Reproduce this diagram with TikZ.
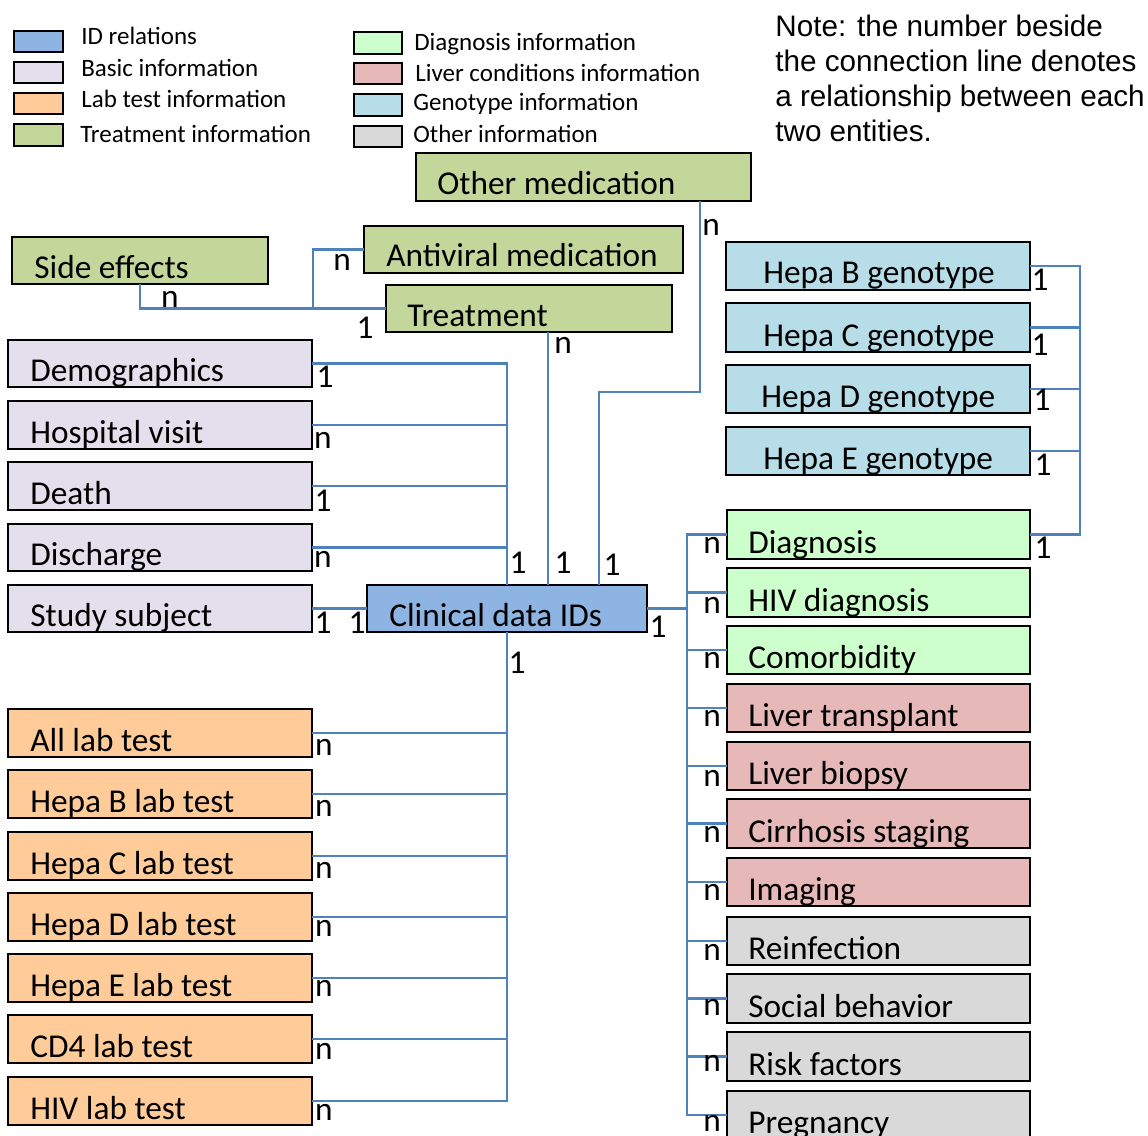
\documentclass[tikz,border=0pt]{standalone}
\usepackage{fontspec}
\setmainfont{Carlito}
\newfontfamily\notefont{Liberation Sans}
\usetikzlibrary{calc}
\definecolor{cid}{RGB}{141,180,226}
\definecolor{cbasic}{RGB}{228,223,236}
\definecolor{clab}{RGB}{255,204,153}
\definecolor{ctreat}{RGB}{196,215,155}
\definecolor{cdiag}{RGB}{204,255,204}
\definecolor{cliver}{RGB}{230,184,183}
\definecolor{cgeno}{RGB}{183,222,232}
\definecolor{cother}{RGB}{217,217,217}
\definecolor{cline}{RGB}{79,129,189}
\tikzset{
  ebx/.style={draw=black, line width=1.2pt, inner sep=0pt, outer sep=0pt},
  etx/.style={anchor=base west, inner sep=0pt, font=\fontsize{20}{24}\selectfont},
  lgtx/.style={anchor=base west, inner sep=0pt, font=\fontsize{15}{18}\selectfont},
  notetx/.style={anchor=base west, inner sep=0pt, font=\notefont\fontsize{17.8}{21}\selectfont},
  lbl/.style={inner sep=0pt, font=\fontsize{20}{24}\selectfont},
  conn/.style={draw=cline, line width=1.25pt},
}
% name, x1, y1, x2, y2, fill, text offset, text
\newcommand\ebox[8]{%
  \node[ebx, fill=#6, minimum width={(#4-#2)*0.6pt}, minimum height={(#5-#3)*0.6pt}, anchor=north west] (#1) at (#2,#3) {};
  \node[etx] (#1t) at ($(#1.south west)+(#7,-6)$) {#8};}
% name, x1, y1, x2, y2, fill
\newcommand\lsw[6]{%
  \node[ebx, fill=#6, minimum width={(#4-#2)*0.6pt}, minimum height={(#5-#3)*0.6pt}, anchor=north west] (#1) at (#2,#3) {};}
\begin{document}
\begin{tikzpicture}[x=0.6pt,y=-0.6pt]
\useasboundingbox (0,0) rectangle (1148,1135);
\fill[white] (0,0) rectangle (1148,1135);

% legend
\lsw{sw1}{14}{31}{63}{52}{cid}
\lsw{sw2}{14}{62}{63}{83}{cbasic}
\lsw{sw3}{14}{93}{63}{114}{clab}
\lsw{sw4}{14}{124}{63}{146}{ctreat}
\node[lgtx] (lg1) at (81,45) {ID relations};
\node[lgtx] (lg2) at (81,77) {Basic information};
\node[lgtx] (lg3) at (81,108) {Lab test information};
\node[lgtx] (lg4) at (80,143) {Treatment information};
\lsw{sw5}{354}{32}{402}{54}{cdiag}
\lsw{sw6}{354}{63}{402}{84}{cliver}
\lsw{sw7}{354}{94}{402}{116}{cgeno}
\lsw{sw8}{354}{126}{402}{147}{cother}
\node[lgtx] (lg5) at (414,51) {Diagnosis information};
\node[lgtx] (lg6) at (415,82) {Liver conditions information};
\node[lgtx] (lg7) at (413,111) {Genotype information};
\node[lgtx] (lg8) at (413,143) {Other information};

% note
\node[notetx] (note1) at (775,37) {Note: the number beside};
\node[notetx] (note2) at (775,72) {the connection line denotes};
\node[notetx] (note3) at (775,107) {a relationship between each};
\node[notetx] (note4) at (775,142) {two entities.};

% coordinates for connector routes
\coordinate (busL) at (507,0);
\coordinate (tx) at (548,0);
\coordinate (ox) at (700,0);
\coordinate (oy) at (0,392);
\coordinate (ox2) at (599,0);
\coordinate (busR) at (687,0);
\coordinate (busG) at (1080,0);
\coordinate (sx) at (140,0);
\coordinate (ax) at (313,0);

% boxes
\ebox{omed}{416}{153}{751}{201}{ctreat}{21}{Other medication}
\ebox{anti}{364}{226}{683}{273}{ctreat}{22}{Antiviral medication}
\ebox{side}{12}{237}{268}{284}{ctreat}{22}{Side effects}
\ebox{treat}{386}{285}{672}{332}{ctreat}{21}{Treatment}
\ebox{demo}{8}{340}{312}{387}{cbasic}{22}{Demographics}
\ebox{hosp}{8}{401}{312}{449}{cbasic}{22}{Hospital visit}
\ebox{death}{8}{462}{312}{510}{cbasic}{22}{Death}
\ebox{disch}{8}{524}{312}{571}{cbasic}{22}{Discharge}
\ebox{study}{8}{585}{312}{632}{cbasic}{22}{Study subject}
\ebox{clin}{367}{585}{647}{632}{cid}{22}{Clinical data IDs}
\ebox{labA}{8}{709}{312}{757}{clab}{22}{All lab test}
\ebox{labB}{8}{770}{312}{818}{clab}{22}{Hepa B lab test}
\ebox{labC}{8}{832}{312}{880}{clab}{22}{Hepa C lab test}
\ebox{labD}{8}{893}{312}{941}{clab}{22}{Hepa D lab test}
\ebox{labE}{8}{954}{312}{1002}{clab}{22}{Hepa E lab test}
\ebox{labCD}{8}{1015}{312}{1063}{clab}{22}{CD4 lab test}
\ebox{labHIV}{8}{1077}{312}{1125}{clab}{22}{HIV lab test}
\ebox{gB}{726}{242}{1030}{290}{cgeno}{37}{Hepa B genotype}
\ebox{gC}{726}{303}{1030}{352}{cgeno}{37}{Hepa C genotype}
\ebox{gD}{726}{365}{1030}{413}{cgeno}{35}{Hepa D genotype}
\ebox{gE}{726}{427}{1030}{475}{cgeno}{37}{Hepa E genotype}
\ebox{diag}{727}{510}{1030}{559}{cdiag}{21}{Diagnosis}
\ebox{hivd}{727}{568}{1030}{617}{cdiag}{21}{HIV diagnosis}
\ebox{comor}{727}{626}{1030}{674}{cdiag}{21}{Comorbidity}
\ebox{ltrans}{727}{684}{1030}{732}{cliver}{21}{Liver transplant}
\ebox{lbiop}{727}{742}{1030}{790}{cliver}{21}{Liver biopsy}
\ebox{cirr}{727}{799}{1030}{848}{cliver}{21}{Cirrhosis staging}
\ebox{imag}{727}{858}{1030}{906}{cliver}{21}{Imaging}
\ebox{reinf}{727}{917}{1030}{965}{cother}{21}{Reinfection}
\ebox{social}{727}{974}{1030}{1023}{cother}{21}{Social behavior}
\ebox{risk}{727}{1032}{1030}{1081}{cother}{21}{Risk factors}
\ebox{preg}{727}{1091}{1030}{1139}{cother}{21}{Pregnancy}

% connectors
\draw[conn] (demo.east) -| (clin.north -| busL);
\foreach \n in {hosp,death,disch} \draw[conn] (\n.east) -- (\n.east -| busL);
\draw[conn] (study.east) -- (clin.west);
\draw[conn] (treat.south -| tx) -- (clin.north -| tx);
\draw[conn] (omed.south -| ox) -- (ox |- oy) -| (clin.north -| ox2);
\draw[conn] (clin.south -| busL) |- (labHIV.east);
\foreach \n in {labA,labB,labC,labD,labE,labCD} \draw[conn] (\n.east) -- (\n.east -| busL);
\draw[conn] (clin.east) -- (clin.east -| busR);
\draw[conn] (diag.west) -| (preg.west -| busR) -- (preg.west);
\foreach \n in {hivd,comor,ltrans,lbiop,cirr,imag,reinf,social,risk} \draw[conn] (\n.west) -- (\n.west -| busR);
\draw[conn] (gB.east) -| (diag.east -| busG) -- (diag.east);
\foreach \n in {gC,gD,gE} \draw[conn] (\n.east) -- (\n.east -| busG);
\draw[conn] (side.south -| sx) |- (treat.west);
\draw[conn] (anti.west) -| (treat.west -| ax);

% cardinality labels
\node[lbl] (t1) at (711,227) {n};
\node[lbl] (t2) at (342,262) {n};
\node[lbl] (t3) at (170,299) {n};
\node[lbl] (t4) at (365,328) {1};
\node[lbl] (t5) at (563,345) {n};
\node[lbl] (b1) at (325,377) {1};
\node[lbl] (b2) at (323,440) {n};
\node[lbl] (b3) at (323,501) {1};
\node[lbl] (b4) at (323,559) {n};
\node[lbl] (b5) at (323,623) {1};
\node[lbl] (c1) at (357,623) {1};
\node[lbl] (c2) at (518,563) {1};
\node[lbl] (c3) at (563,563) {1};
\node[lbl] (c4) at (612,565) {1};
\node[lbl] (c5) at (658,627) {1};
\node[lbl] (c6) at (517,663) {1};
\foreach \y [count=\i] in {747,808,870,928,988,1051,1112}
  \node[lbl] (lb\i) at (324,\y) {n};
\foreach \y [count=\i] in {545,605,660,718,778,834,892,952,1007,1063,1123}
  \node[lbl] (rn\i) at (712,\y) {n};
\node[lbl] (g1) at (1040,280) {1};
\node[lbl] (g2) at (1040,345) {1};
\node[lbl] (g3) at (1042,400) {1};
\node[lbl] (g4) at (1043,465) {1};
\node[lbl] (g5) at (1043,548) {1};
\end{tikzpicture}
\end{document}
